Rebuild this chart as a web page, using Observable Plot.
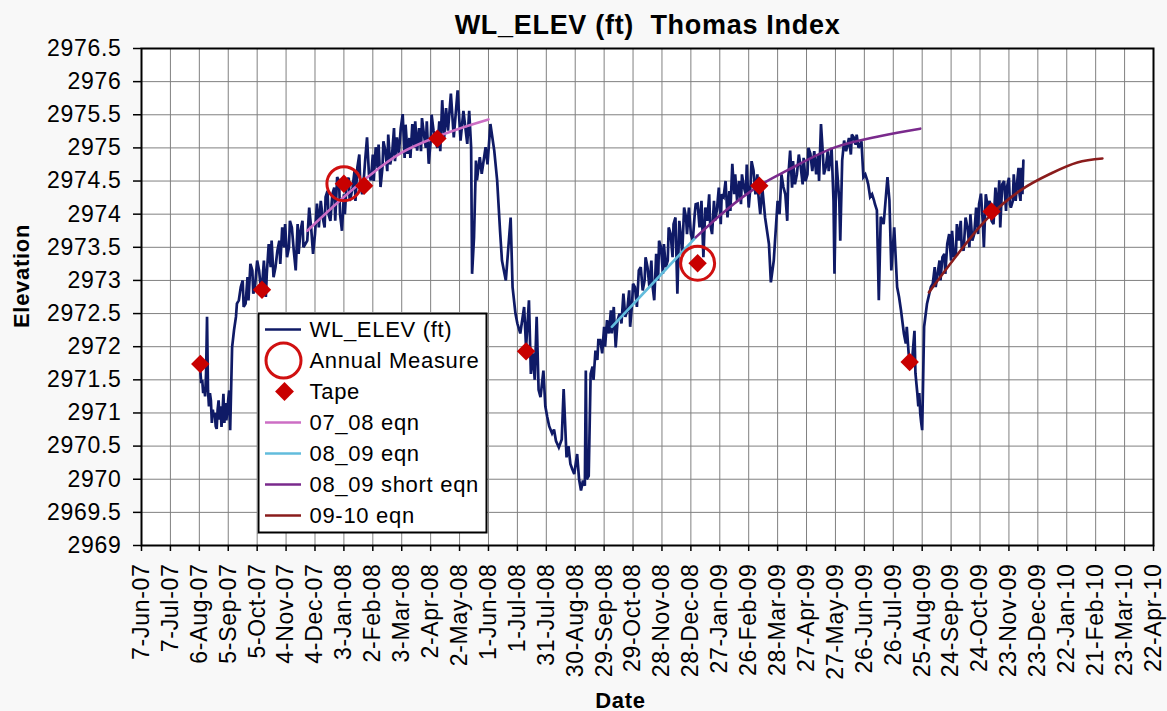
<!DOCTYPE html>
<html><head><meta charset="utf-8">
<script src="https://cdn.jsdelivr.net/npm/d3@7"></script>
<script src="https://cdn.jsdelivr.net/npm/@observablehq/plot@0.6"></script>
<style>
html,body{margin:0;padding:0;background:#f8f8f8;}
#wrap{position:relative;width:1167px;height:711px;}
#legend{position:absolute;left:257px;top:312px;}
svg text{letter-spacing:0.7px;}
.title text{white-space:pre;}
</style></head><body><div id="wrap"></div>
<script>
// ---- DATA ----
const chartTitle = "WL_ELEV (ft)  Thomas Index";
const xTickLabels = ["7-Jun-07","7-Jul-07","6-Aug-07","5-Sep-07","5-Oct-07","4-Nov-07","4-Dec-07","3-Jan-08","2-Feb-08","3-Mar-08","2-Apr-08","2-May-08","1-Jun-08","1-Jul-08","31-Jul-08","30-Aug-08","29-Sep-08","29-Oct-08","28-Nov-08","28-Dec-08","27-Jan-09","26-Feb-09","28-Mar-09","27-Apr-09","27-May-09","26-Jun-09","26-Jul-09","25-Aug-09","24-Sep-09","24-Oct-09","23-Nov-09","23-Dec-09","22-Jan-10","21-Feb-10","23-Mar-10","22-Apr-10"];
const yTicks = [2969,2969.5,2970,2970.5,2971,2971.5,2972,2972.5,2973,2973.5,2974,2974.5,2975,2975.5,2976,2976.5];

// WL_ELEV readings: [days after 7-Jun-07, elevation ft]
const wlReadings = [[61,2971.64],[63,2971.50],[65,2971.39],[67,2971.60],[68,2972.45],[69,2971.34],[72,2971.19],[75,2970.94],[78,2970.76],[80,2971.19],[83,2970.79],[85,2971.29],[88,2970.89],[91,2971.34],[92,2970.74],[94,2971.99],[98,2972.45],[99,2972.65],[103,2972.90],[108,2972.65],[113,2973.25],[118,2972.95],[122,2973.15],[125,2972.90],[129,2972.75],[132,2973.55],[137,2973.05],[141,2973.45],[146,2973.80],[151,2973.35],[156,2973.80],[160,2973.15],[165,2973.75],[170,2973.55],[174,2974.10],[178,2973.40],[182,2974.16],[188,2973.95],[191,2974.26],[196,2973.90],[200,2974.40],[203,2974.56],[206,2974.00],[208,2973.75],[210,2974.30],[213,2974.51],[216,2974.20],[219,2974.40],[224,2974.71],[227,2974.45],[231,2974.60],[234,2975.16],[238,2974.51],[243,2975.01],[248,2974.41],[253,2974.96],[258,2974.75],[265,2975.16],[271,2975.51],[276,2974.91],[281,2975.36],[286,2974.96],[293,2975.21],[298,2974.76],[303,2975.26],[307,2975.00],[312,2975.72],[314,2975.15],[316,2975.60],[318,2975.26],[321,2975.82],[324,2975.16],[328,2975.87],[331,2975.11],[334,2975.56],[338,2975.06],[340,2975.56],[342,2975.01],[343,2973.10],[345,2973.65],[347,2974.81],[348,2974.51],[351,2974.86],[353,2974.61],[357,2975.01],[359,2974.75],[362,2975.36],[366,2974.96],[369,2974.51],[372,2973.75],[374,2973.30],[378,2973.00],[383,2973.95],[385,2972.90],[388,2972.50],[393,2972.20],[397,2972.60],[399,2971.99],[402,2972.70],[404,2971.59],[410,2972.45],[414,2971.24],[417,2971.64],[421,2970.94],[426,2970.69],[430,2970.58],[433,2970.48],[438,2971.36],[441,2970.33],[445,2970.23],[449,2970.08],[452,2970.38],[456,2969.83],[458,2969.98],[461,2971.64],[462,2970.00],[464,2970.05],[466,2971.59],[471,2971.94],[476,2972.10],[483,2972.40],[490,2972.60],[492,2971.99],[496,2972.50],[500,2972.80],[504,2972.55],[507,2972.30],[512,2972.90],[516,2973.15],[520,2972.85],[525,2973.20],[532,2972.70],[539,2973.50],[544,2973.20],[549,2973.70],[554,2973.95],[556,2972.80],[560,2973.60],[563,2974.10],[566,2973.70],[570,2973.70],[574,2974.00],[577,2974.16],[583,2973.35],[587,2973.90],[592,2973.70],[597,2974.06],[604,2974.26],[608,2973.95],[613,2974.76],[618,2974.20],[625,2974.41],[630,2974.10],[635,2974.66],[642,2974.00],[644,2974.41],[647,2973.95],[651,2973.55],[653,2972.97],[656,2973.30],[660,2974.20],[666,2974.41],[670,2973.90],[673,2974.96],[678,2974.45],[684,2974.71],[689,2974.50],[694,2974.91],[700,2974.60],[705,2975.36],[710,2974.71],[715,2974.86],[718,2974.20],[719,2973.10],[721,2974.81],[724,2974.20],[725,2973.60],[727,2974.81],[729,2975.11],[732,2975.01],[739,2975.16],[746,2975.06],[749,2974.56],[753,2974.51],[756,2974.26],[760,2974.21],[763,2974.06],[765,2972.70],[767,2973.96],[770,2973.85],[774,2974.56],[776,2974.21],[778,2973.15],[781,2973.80],[784,2972.90],[788,2972.55],[791,2972.20],[796,2971.89],[799,2971.70],[802,2972.24],[805,2971.29],[808,2970.99],[810,2970.74],[812,2972.30],[815,2972.65],[819,2972.90],[826,2973.10],[831,2973.35],[836,2973.55],[843,2973.35],[846,2973.85],[853,2973.45],[857,2973.80],[864,2973.70],[871,2974.31],[874,2973.50],[878,2974.10],[882,2973.90],[886,2974.40],[890,2974.51],[891,2973.80],[895,2974.50],[898,2974.41],[902,2974.10],[905,2974.60],[909,2974.56],[912,2974.20],[915,2974.81]];
// finer readings of the daily noise, same units
const wlReadingsFine = [[62,2971.45],[64,2971.30],[66,2971.25],[70,2971.10],[71,2971.30],[73,2970.85],[74,2971.05],[76,2971.00],[77,2970.80],[79,2971.05],[81,2970.90],[82,2971.10],[84,2971.00],[86,2970.85],[87,2971.15],[89,2971.00],[90,2971.20],
[96,2972.25],[101,2972.70],[105,2973.00],[106,2972.60],[110,2973.05],[111,2972.70],[115,2973.15],[116,2972.80],[120,2973.30],[124,2972.85],[127,2973.30],[130,2973.10],[134,2973.20],[135,2973.60],[139,2973.20],[143,2973.60],[144,2973.25],[148,2973.50],[149,2973.85],[153,2973.50],[154,2973.90],[158,2973.45],[162,2973.85],[163,2973.40],[167,2973.90],[168,2973.50],[172,2973.60],
[176,2973.80],[180,2973.70],[184,2973.80],[186,2974.20],[190,2973.80],[193,2974.35],[194,2974.00],[198,2974.30],[201,2973.90],[205,2974.50],[211,2974.00],[215,2974.55],[217,2974.25],[221,2974.65],[222,2974.20],[226,2974.90],[229,2974.30],[232,2974.80],[236,2974.60],[240,2974.90],[241,2974.50],[245,2974.70],[246,2975.05],[250,2974.70],[251,2975.10],[255,2974.65],[256,2975.20],[260,2974.90],[262,2975.30],[263,2974.80],[267,2974.90],[269,2975.30],[273,2974.85],[274,2975.35],[278,2975.15],[279,2974.85],[283,2975.00],[284,2975.40],[288,2975.30],[290,2974.95],[291,2975.45],[295,2975.00],[296,2975.40],[300,2975.10],[301,2975.50],[305,2975.10],[309,2975.40],[310,2974.95],
[390,2972.35],[395,2972.40],[406,2971.90],[408,2971.50],[412,2971.35],[419,2971.10],[423,2970.80],[428,2970.75],[436,2970.60],[443,2970.50],[447,2970.15],[454,2970.00],[460,2969.90],
[468,2971.70],[469,2971.50],[473,2971.80],[474,2972.10],[478,2971.90],[480,2972.30],[481,2972.00],[485,2972.20],[487,2972.55],[488,2972.20],[494,2972.40],[498,2972.35],[502,2972.45],[506,2972.85],[509,2972.65],[510,2972.95],[514,2972.60],[518,2973.20],[522,2973.00],[523,2973.35],[527,2972.90],[529,2973.30],[530,2972.95],[534,2973.40],[536,2973.00],[537,2973.60],[541,2973.10],[542,2973.55],[546,2973.30],[547,2973.80],[551,2973.35],[552,2973.85],[558,2973.90],[561,2973.40],
[565,2973.95],[568,2974.10],[572,2973.60],[575,2974.15],[579,2973.80],[581,2974.20],[585,2974.10],[589,2974.30],[590,2973.85],[594,2974.20],[595,2973.90],[599,2974.40],[601,2973.85],[602,2974.30],[606,2974.50],[610,2974.35],[611,2974.05],[615,2974.30],[616,2974.60],[620,2974.50],[622,2974.15],[623,2974.60],[627,2974.30],[628,2974.75],[632,2974.45],[633,2974.80],[637,2974.30],[639,2974.60],[640,2974.30],[662,2974.00],[664,2974.60],[668,2974.30],[671,2974.55],[675,2974.40],[676,2974.80],[680,2974.60],[682,2974.90],[686,2974.45],[687,2974.85],[691,2974.60],[692,2975.00],[696,2974.65],[698,2974.95],[702,2974.90],[703,2974.50],[707,2974.90],[708,2974.60],[712,2974.95],[713,2974.65],[716,2975.00],[731,2974.95],[734,2975.15],[736,2974.90],[737,2975.20],[741,2975.05],[742,2975.20],[744,2975.00],[747,2975.10],[751,2974.60],[754,2974.45],[758,2974.30],[761,2974.15],
[786,2972.75],[793,2972.05],[794,2972.30],[798,2971.80],[803,2971.60],[806,2971.10],[807,2971.30],[809,2970.85],
[821,2972.95],[823,2973.20],[824,2972.90],[828,2973.30],[829,2973.00],[833,2973.40],[834,2973.10],[838,2973.70],[840,2973.30],[841,2973.75],[845,2973.40],[848,2973.60],[850,2973.90],[851,2973.50],[855,2973.95],[859,2973.50],[860,2974.00],[862,2973.60],[866,2974.10],[868,2973.70],[869,2974.15],[873,2973.85],[876,2974.30],[880,2974.20],[884,2973.85],[888,2974.00],[893,2974.45],[897,2974.05],[900,2974.55],[901,2974.15],[904,2974.20],[907,2974.20],[910,2974.70],[911,2974.30],[913,2974.70],[914,2974.30]];

// Equation curves: [days after 7-Jun-07, elevation]
const eqn0708 = [[172,2973.75],[210,2974.26],[238,2974.60],[269,2974.92],[307,2975.17],[338,2975.33],[360,2975.43]];
const eqn0809 = [[488,2972.30],[532,2972.98],[575,2973.65]];
const eqn0809short = [[575,2973.65],[604,2974.03],[641,2974.43],[670,2974.66],[718,2975.00],[767,2975.18],[808,2975.29]];
const eqn0910 = [[817,2972.82],[846,2973.38],[871,2973.83],[882,2974.00],[912,2974.36],[943,2974.61],[971,2974.78],[997,2974.84]];

const tapeDates = ["2007-08-07","2007-10-10","2008-01-03","2008-01-24","2008-04-09","2008-07-10","2009-01-04","2009-03-09","2009-08-12","2009-11-05"];
const tapeElev = [2971.74,2972.86,2974.46,2974.43,2975.14,2971.93,2973.26,2974.43,2971.77,2974.04];
const annualDates = ["2008-01-03","2009-01-04"];
const annualElev = [2974.46,2973.26];

const seriesNames = ["WL_ELEV (ft)","Annual Measure","Tape","07_08 eqn","08_09 eqn","08_09 short eqn","09-10 eqn"];
const seriesKinds = ["line","circle","diamond","line","line","line","line"];
const seriesColors = ["#0f1a66","#d01010","#c80000","#cc6ec4","#62bcdc","#7a2a8c","#8a1c1c"];

// ---- BUILD ----
const parseTick = d3.utcParse("%d-%b-%y");
const parseISO = d3.utcParse("%Y-%m-%d");
const xTickDates = xTickLabels.map(parseTick);
const origin = xTickDates[0];
const toPts = arr => arr.map(([d, v]) => ({date: d3.utcDay.offset(origin, d), elev: v}));
const wl = toPts(wlReadings.concat(wlReadingsFine).sort((a, b) => a[0] - b[0]));
const tape = tapeDates.map((d, i) => ({date: parseISO(d), elev: tapeElev[i]}));
const annual = annualDates.map((d, i) => ({date: parseISO(d), elev: annualElev[i]}));
const col = name => seriesColors[seriesNames.indexOf(name)];
const font = "'Liberation Sans', Arial, Helvetica, sans-serif";

const eqnMarks = [["07_08 eqn", eqn0708], ["08_09 eqn", eqn0809], ["08_09 short eqn", eqn0809short], ["09-10 eqn", eqn0910]]
  .map(([name, arr]) => Plot.line(toPts(arr), {x: "date", y: "elev", stroke: col(name), strokeWidth: 2.6, curve: "monotone-x"}));

const chart = Plot.plot({
  width: 1167, height: 711,
  marginLeft: 141, marginRight: 14, marginTop: 48, marginBottom: 166,
  style: {background: "transparent", fontFamily: font, fontSize: "23px", color: "black", overflow: "visible"},
  x: {type: "utc", domain: [xTickDates[0], xTickDates[xTickDates.length - 1]]},
  y: {domain: [yTicks[0], yTicks[yTicks.length - 1]]},
  marks: [
    Plot.frame({fill: "white"}),
    Plot.gridX(xTickDates, {stroke: "#808080", strokeOpacity: 1, strokeWidth: 1}),
    Plot.gridY(yTicks, {stroke: "#808080", strokeOpacity: 1, strokeWidth: 1}),
    Plot.line(wl, {x: "date", y: "elev", stroke: col("WL_ELEV (ft)"), strokeWidth: 2.7, strokeLinejoin: "miter", strokeMiterlimit: 3}),
    ...eqnMarks,
    Plot.dot(annual, {x: "date", y: "elev", r: 17, stroke: col("Annual Measure"), strokeWidth: 3, fill: "none"}),
    Plot.dot(tape, {x: "date", y: "elev", symbol: "diamond2", r: 8.3, fill: col("Tape"), stroke: "none"}),
    Plot.frame({stroke: "black", strokeWidth: 2}),
    Plot.axisX(xTickDates, {tickRotate: -90, tickSize: 6, tickPadding: 12, tickFormat: d3.utcFormat("%-d-%b-%y"), fontSize: 23, label: null, strokeWidth: 1.5}),
    Plot.axisY(yTicks, {tickSize: 8, tickPadding: 12, tickFormat: d => String(d), fontSize: 23, label: null, strokeWidth: 1.5}),
    Plot.text([chartTitle], {frameAnchor: "top", lineAnchor: "middle", dy: -23, fontWeight: "bold", fontSize: 27, className: "title"}),
    Plot.text(["Elevation"], {frameAnchor: "left", lineAnchor: "middle", textAnchor: "middle", dx: -120, dy: -21, rotate: -90, fontWeight: "bold", fontSize: 22}),
    Plot.text(["Date"], {frameAnchor: "bottom", lineAnchor: "middle", dx: -27, dy: 155, fontWeight: "bold", fontSize: 22})
  ]
});
document.getElementById("wrap").appendChild(chart);

// Legend (drawn with Plot as well)
const entries = seriesNames.map((name, i) => ({name, kind: seriesKinds[i], color: seriesColors[i]}));
const legend = Plot.plot({
  width: 230, height: 221, margin: 0,
  style: {background: "white", fontFamily: font, fontSize: "22px", color: "black", overflow: "visible"},
  x: {domain: [0, 230], range: [0, 230], axis: null},
  y: {type: "point", domain: seriesNames, range: [16, 204], padding: 0, axis: null},
  color: {type: "identity"},
  marks: [
    Plot.ruleY(entries.filter(d => d.kind === "line"), {y: "name", x1: 8, x2: 44, stroke: "color", strokeWidth: 2.5}),
    Plot.dot(entries.filter(d => d.kind === "circle"), {x: 26, y: "name", r: 17.5, stroke: "color", strokeWidth: 3, fill: "none"}),
    Plot.dot(entries.filter(d => d.kind === "diamond"), {x: 27, y: "name", symbol: "diamond2", r: 8.5, fill: "color", stroke: "none"}),
    Plot.text(seriesNames, {x: 52, y: d => d, textAnchor: "start", fontSize: 22}),
    Plot.frame({stroke: "black", strokeWidth: 2, inset: 1})
  ]
});
legend.id = "legend";
document.getElementById("wrap").appendChild(legend);
</script></body></html>
